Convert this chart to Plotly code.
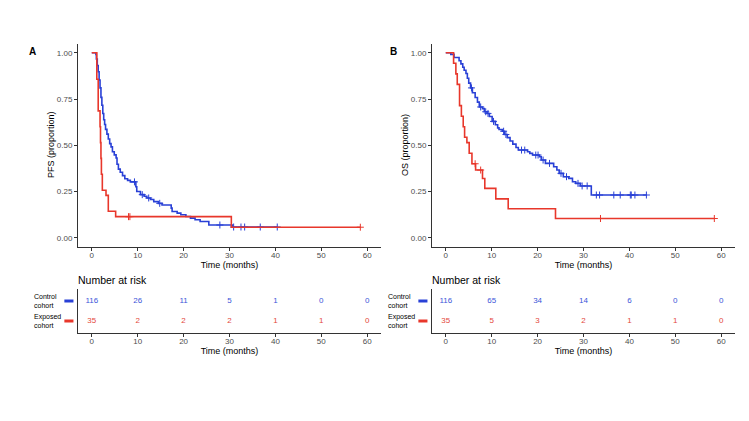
import plotly.graph_objects as go

# Kaplan-Meier steps (time in months, survival proportion)
pfs_ctrl_t = [0.9, 1.0, 1.2, 1.4, 1.6, 1.8, 2.0, 2.2, 2.4, 2.6, 2.8, 3.0, 3.3, 3.6, 3.9, 4.2, 4.5,
              4.9, 5.3, 5.5, 5.8, 6.2, 6.7, 7.2, 7.8, 8.4, 9.6, 9.8, 10.6, 11.4, 12.0, 12.8, 13.5,
              14.5, 15.3, 17.3, 17.5, 18.6, 19.4, 20.5, 21.5, 22.5, 23.6, 25.5, 30.6]
pfs_ctrl_s = [0.991, 0.966, 0.931, 0.897, 0.853, 0.810, 0.759, 0.716, 0.672, 0.638, 0.612, 0.586,
              0.560, 0.534, 0.509, 0.491, 0.465, 0.448, 0.431, 0.397, 0.371, 0.354, 0.336, 0.319,
              0.310, 0.302, 0.276, 0.250, 0.233, 0.224, 0.215, 0.207, 0.195, 0.186, 0.177, 0.160,
              0.142, 0.133, 0.124, 0.115, 0.106, 0.097, 0.088, 0.069, 0.058]
pfs_ctrl_cens = [9.3, 11.0, 12.4, 14.8, 27.9, 30.9, 32.5, 33.3, 36.7, 40.4]

pfs_exp_t = [1.1, 1.4, 1.8, 1.9, 2.0, 2.1, 2.3, 3.1, 3.6, 5.2, 30.4]
pfs_exp_s = [0.857, 0.686, 0.600, 0.514, 0.429, 0.343, 0.257, 0.229, 0.143, 0.114, 0.057]
pfs_exp_cens = [8.0, 8.3, 58.5]

os_ctrl_t = [1.1, 1.8, 2.9, 3.3, 3.7, 4.0, 4.4, 4.7, 5.0, 5.4, 5.8, 6.4, 6.9, 7.3, 8.0, 8.4, 9.0,
             9.5, 10.1, 10.8, 11.3, 11.6, 12.3, 12.8, 13.4, 14.0, 14.6, 15.3, 15.8, 17.8, 18.3,
             18.9, 20.4, 20.8, 21.7, 23.5, 24.2, 24.7, 25.6, 26.8, 27.6, 28.3, 29.3, 31.7]
os_ctrl_s = [0.991, 0.974, 0.957, 0.940, 0.922, 0.905, 0.888, 0.862, 0.836, 0.810, 0.784, 0.758,
             0.733, 0.707, 0.698, 0.681, 0.672, 0.655, 0.629, 0.611, 0.594, 0.585, 0.576, 0.558,
             0.541, 0.523, 0.506, 0.488, 0.474, 0.465, 0.456, 0.447, 0.438, 0.420, 0.402, 0.384,
             0.366, 0.348, 0.330, 0.321, 0.303, 0.294, 0.280, 0.231]
os_ctrl_cens = [5.6, 7.6, 8.7, 9.2, 10.4, 12.6, 13.1, 16.5, 17.2, 19.6, 20.1, 21.2, 22.6, 25.1,
                26.3, 28.8, 29.7, 30.8, 32.8, 33.5, 36.6, 38.0, 40.2, 40.4, 41.2, 43.7]

os_exp_t = [1.7, 2.2, 2.5, 3.0, 3.4, 3.8, 4.1, 4.6, 5.1, 5.7, 6.5, 8.0, 8.5, 10.9, 13.6, 23.9]
os_exp_s = [0.943, 0.886, 0.829, 0.714, 0.657, 0.600, 0.543, 0.514, 0.457, 0.400, 0.366, 0.320,
            0.267, 0.210, 0.157, 0.104]
os_exp_cens = [6.4, 7.6, 33.7, 58.5]

risk_times = [0, 10, 20, 30, 40, 50, 60]
pfs_risk_ctrl = [116, 26, 11, 5, 1, 0, 0]
pfs_risk_exp = [35, 2, 2, 2, 1, 1, 0]
os_risk_ctrl = [116, 65, 34, 14, 6, 0, 0]
os_risk_exp = [35, 5, 3, 2, 1, 1, 0]

BLUE = "#2940D6"
RED = "#E8372B"
BLUE_TXT = "#3B55D9"
RED_TXT = "#E4483B"
FONT = "Liberation Sans, Arial, sans-serif"

# the page body adds an 8px margin, so the figure is drawn 8px in from the window edge
OFF = 8
W, H = 749 - 2 * OFF, 421 - 2 * OFF


def px(x):
    return (x - OFF) / W


def py(y):
    return 1 - (y - OFF) / H


def surv_at(times, surv, t):
    s = 1.0
    for ti, si in zip(times, surv):
        if ti <= t:
            s = si
    return s


def km_traces(times, surv, cens, color, xa, ya):
    end = max(cens + times)
    x = [0] + times + [end]
    y = [1.0] + surv + [surv[-1]]
    line = go.Scatter(x=x, y=y, mode="lines", line=dict(color=color, width=1.6, shape="hv"),
                      xaxis=xa, yaxis=ya, showlegend=False, hoverinfo="skip")
    marks = go.Scatter(x=cens, y=[surv_at(times, surv, c) for c in cens], mode="markers",
                       marker=dict(symbol="cross-thin-open", size=5, color=color,
                                   line=dict(color=color, width=1)),
                       xaxis=xa, yaxis=ya, showlegend=False, hoverinfo="skip")
    return [line, marks]


fig = go.Figure()
for tr in km_traces(pfs_ctrl_t, pfs_ctrl_s, pfs_ctrl_cens, BLUE, "x", "y"):
    fig.add_trace(tr)
for tr in km_traces(pfs_exp_t, pfs_exp_s, pfs_exp_cens, RED, "x", "y"):
    fig.add_trace(tr)
for tr in km_traces(os_ctrl_t, os_ctrl_s, os_ctrl_cens, BLUE, "x2", "y2"):
    fig.add_trace(tr)
for tr in km_traces(os_exp_t, os_exp_s, os_exp_cens, RED, "x2", "y2"):
    fig.add_trace(tr)

# number at risk tables
for xa, ya, ctrl, exp in [("x3", "y3", pfs_risk_ctrl, pfs_risk_exp), ("x4", "y4", os_risk_ctrl, os_risk_exp)]:
    fig.add_trace(go.Scatter(x=risk_times, y=[2] * len(risk_times), text=[str(v) for v in ctrl],
                             mode="text", textfont=dict(family=FONT, size=8, color=BLUE_TXT),
                             xaxis=xa, yaxis=ya, showlegend=False, hoverinfo="skip"))
    fig.add_trace(go.Scatter(x=risk_times, y=[1] * len(risk_times), text=[str(v) for v in exp],
                             mode="text", textfont=dict(family=FONT, size=8, color=RED_TXT),
                             xaxis=xa, yaxis=ya, showlegend=False, hoverinfo="skip"))

tickfont = dict(family=FONT, size=8, color="#4D4D4D")
titlefont = dict(family=FONT, size=9, color="black")
ax_common = dict(showline=True, linecolor="#333333", linewidth=1, ticks="outside", ticklen=3,
                 tickcolor="#333333", tickfont=tickfont, showgrid=False, zeroline=False,
                 automargin=False)

xA = [px(78), px(381)]
xB = [px(432), px(735)]
y_main = [py(247), py(43.5)]
y_tab = [py(333), py(289)]

xaxis_main = dict(ax_common, range=[-3, 63], tickvals=risk_times, ticklabelstandoff=-3,
                  title=dict(text="Time (months)", font=titlefont, standoff=2))
ytick = dict(range=[-0.05, 1.05], tickvals=[0, 0.25, 0.5, 0.75, 1.0],
             ticktext=["0.00", "0.25", "0.50", "0.75", "1.00"])
fig.update_layout(
    width=W, height=H, margin=dict(l=0, r=0, t=0, b=0, autoexpand=False),
    paper_bgcolor="white", plot_bgcolor="white", showlegend=False,
    xaxis=dict(xaxis_main, domain=xA, anchor="y"),
    yaxis=dict(ax_common, **ytick, domain=y_main, anchor="x"),
    xaxis2=dict(xaxis_main, domain=xB, anchor="y2"),
    yaxis2=dict(ax_common, **ytick, domain=y_main, anchor="x2"),
    xaxis3=dict(xaxis_main, domain=xA, anchor="y3"),
    yaxis3=dict(ax_common, domain=y_tab, anchor="x3", range=[0.4, 2.6], ticks="", showticklabels=False),
    xaxis4=dict(xaxis_main, domain=xB, anchor="y4"),
    yaxis4=dict(ax_common, domain=y_tab, anchor="x4", range=[0.4, 2.6], ticks="", showticklabels=False),
)

# y axis titles, panel letters and table headings
for x0, title, letter in [(51, "PFS (proportion)", "A"), (405, "OS (proportion)", "B")]:
    fig.add_annotation(x=px(x0), y=py(145), xref="paper", yref="paper", text=title, textangle=-90,
                       xanchor="center", yanchor="middle", showarrow=False, font=titlefont)
for x0, letter in [(32, "A"), (393, "B")]:
    fig.add_annotation(x=px(x0), y=py(51), xref="paper", yref="paper", text="<b>%s</b>" % letter,
                       xanchor="center", yanchor="middle", showarrow=False,
                       font=dict(family=FONT, size=10, color="black"))
for x0, xd, yd in [(78, "x3 domain", "y3"), (432, "x4 domain", "y4")]:
    fig.add_annotation(x=px(x0 - 2), y=py(280), xref="paper", yref="paper", text="Number at risk",
                       xanchor="left", yanchor="middle", showarrow=False,
                       font=dict(family=FONT, size=10.5, color="black"))
    for row, label, col in [(2, "Control<br>cohort", BLUE), (1, "Exposed<br>cohort", RED)]:
        fig.add_annotation(x=px(x0 - 46), y=row, xref="paper", yref=yd, text=label, xanchor="left",
                           yanchor="middle", align="left", showarrow=False,
                           font=dict(family=FONT, size=7, color="black"))
        fig.add_shape(type="line", xref=xd, yref=yd, x0=-0.045, x1=-0.015, y0=row, y1=row,
                      line=dict(color=col, width=3))

fig.write_html("out.html")
